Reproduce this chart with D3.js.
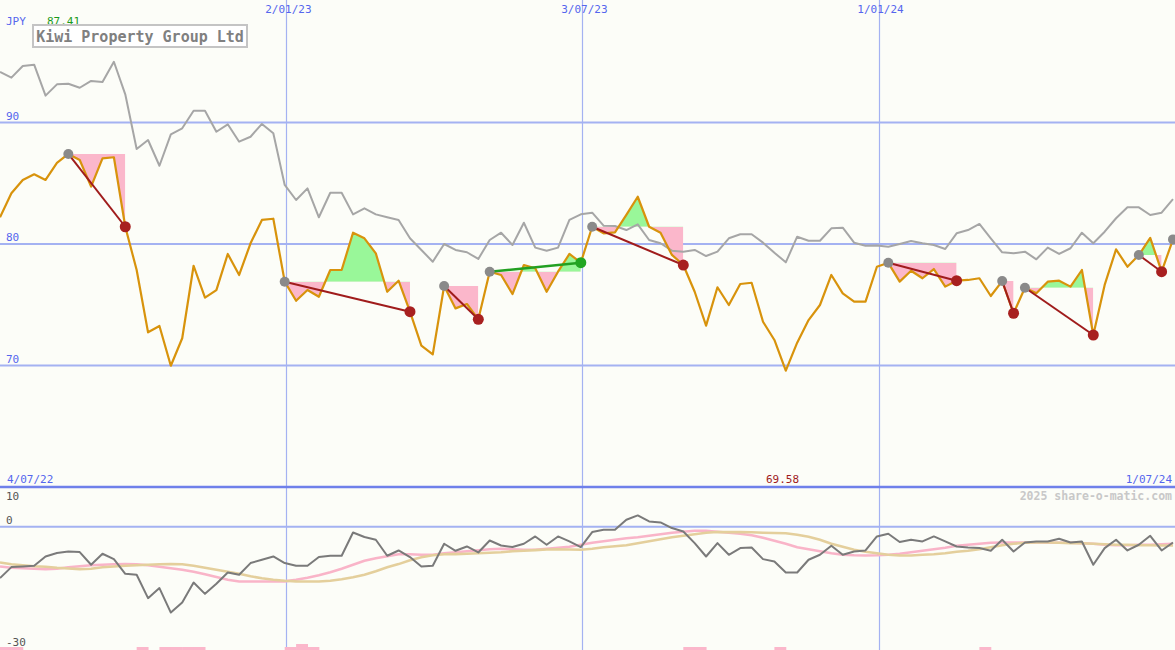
<!DOCTYPE html>
<html><head><meta charset="utf-8">
<script src="https://cdn.jsdelivr.net/npm/d3@7"></script>
<style>
html,body{margin:0;padding:0;background:#fcfdf8;}
svg{display:block;}
text{font-family:"DejaVu Sans Mono",monospace;}
</style></head><body>
<svg id="chart" width="1175" height="650"></svg>
<script>
// ---------------- data ----------------
const title = "Kiwi Property Group Ltd";
const currency = "JPY";
const startDate = "2022-07-10"; // first weekly point
const rangeStartLabel = "4/07/22";
const rangeEndLabel = "1/07/24";
const watermark = "2025 share-o-matic.com";
const dateTicks = ["2023-01-02", "2023-07-03", "2024-01-01"];
const priceTicks = [90, 80, 70];
const oscTicks = [10, 0, -30];

const price = [82.2, 84.17, 85.27, 85.74, 85.27, 86.67, 87.41, 86.91, 84.72, 87.05,
  87.14, 81.42, 77.86, 72.73, 73.25, 69.98, 72.24, 78.21, 75.58, 76.21,
  79.18, 77.45, 80.06, 81.98, 82.08, 76.9, 75.33, 76.21, 75.66, 77.86,
  77.86, 80.93, 80.47, 79.23, 76.07, 76.98, 74.43, 71.63, 70.92, 76.54,
  74.7, 75.06, 73.8, 77.72, 77.45, 75.88, 78.27, 78.0, 76.07, 77.72,
  79.18, 78.46, 81.42, 80.88, 80.96, 82.4, 83.89, 81.42, 80.93, 79.1,
  78.27, 76.07, 73.28, 76.44, 74.98, 76.71, 76.81, 73.6, 72.1, 69.58,
  71.88, 73.74, 74.98, 77.45, 75.94, 75.25, 75.25, 78.13, 78.45, 76.9,
  77.8, 77.18, 77.94, 76.49, 76.98, 77.04, 77.18, 75.72, 76.95, 74.3,
  76.4, 75.94, 76.9, 76.98, 76.49, 77.86, 72.51, 76.63, 79.56, 78.13,
  79.09, 80.51, 77.72, 80.38];

const relative = [94.16, 93.69, 94.65, 94.76, 92.21, 93.14, 93.19, 92.86, 93.42, 93.33,
  95.0, 92.32, 87.82, 88.56, 86.44, 89.03, 89.52, 90.97, 90.97, 89.24,
  89.85, 88.42, 88.83, 89.88, 89.11, 84.86, 83.62, 84.58, 82.2, 84.22,
  84.22, 82.44, 82.94, 82.44, 82.2, 81.98, 80.47, 79.51, 78.54, 80.0,
  79.51, 79.32, 78.77, 80.33, 80.93, 79.92, 81.75, 79.7, 79.45, 79.7,
  81.98, 82.44, 82.58, 81.51, 81.48, 81.15, 81.62, 80.33, 80.06, 79.45,
  79.37, 79.51, 79.01, 79.37, 80.47, 80.8, 80.8, 80.11, 79.28, 78.49,
  80.6, 80.27, 80.27, 81.29, 81.34, 80.11, 79.86, 79.88, 79.78, 80.0,
  80.25, 80.06, 79.92, 79.59, 80.88, 81.15, 81.65, 80.47, 79.32, 79.23,
  79.37, 78.74, 79.7, 79.18, 79.65, 80.93, 80.06, 81.01, 82.12, 83.02,
  83.02, 82.39, 82.58, 83.7];

const oscillator = [-12.92, -10.15, -10.0, -9.82, -7.48, -6.62, -6.22, -6.37, -9.57, -6.8,
  -8.14, -11.84, -12.09, -17.96, -15.44, -21.59, -19.07, -14.03, -16.88, -14.36,
  -11.51, -12.09, -9.14, -8.31, -7.48, -9.14, -9.82, -9.82, -7.63, -7.3,
  -7.3, -1.44, -2.59, -3.27, -7.3, -5.97, -7.63, -10.0, -9.82, -4.28,
  -6.05, -4.96, -6.47, -3.45, -4.71, -5.11, -4.28, -2.44, -4.53, -2.44,
  -3.7, -5.11, -1.34, -0.76, -0.76, 1.76, 2.85, 1.34, 1.08, -0.33,
  -1.18, -4.11, -7.48, -4.11, -7.05, -5.37, -5.21, -8.14, -8.74, -11.51,
  -11.51, -8.31, -7.05, -4.79, -7.05, -6.22, -5.97, -2.44, -1.76, -3.85,
  -3.27, -3.7, -2.44, -3.7, -4.96, -5.21, -5.37, -6.05, -3.27, -6.22,
  -3.95, -3.7, -3.7, -3.02, -3.95, -3.7, -9.57, -5.37, -3.27, -5.97,
  -4.53, -2.27, -5.97, -3.95];

const oscAvgFast = [-10.0, -10.33, -10.45, -10.58, -10.65, -10.58, -10.2, -9.95, -9.7, -9.57,
  -9.45, -9.4, -9.45, -9.7, -10.08, -10.45, -10.83, -11.34, -11.96, -12.67,
  -13.35, -13.78, -13.78, -13.78, -13.78, -13.73, -13.35, -12.85, -12.22, -11.46,
  -10.58, -9.57, -8.56, -7.93, -7.43, -6.93, -6.93, -7.05, -7.05, -6.68,
  -6.42, -6.17, -5.92, -5.67, -5.54, -5.67, -5.79, -5.79, -5.54, -5.29,
  -5.04, -4.53, -4.03, -3.65, -3.27, -2.9, -2.64, -2.27, -1.89, -1.51,
  -1.26, -1.01, -1.01, -1.26, -1.51, -1.76, -2.14, -2.77, -3.53, -4.28,
  -5.16, -5.67, -6.17, -6.68, -7.05, -7.18, -7.23, -7.18, -7.05, -6.8,
  -6.42, -6.05, -5.67, -5.29, -4.79, -4.53, -4.28, -4.03, -3.95, -3.95,
  -3.95, -3.95, -4.03, -4.03, -4.03, -4.16, -4.28, -4.53, -4.66, -4.66,
  -4.53, -4.53, -4.41, -4.28];

const oscAvgSlow = [-8.99, -9.45, -9.7, -9.95, -10.08, -10.33, -10.5, -10.65, -10.58, -10.2,
  -10.0, -9.82, -9.7, -9.57, -9.45, -9.4, -9.45, -9.82, -10.33, -10.83,
  -11.34, -11.84, -12.47, -12.97, -13.35, -13.6, -13.73, -13.78, -13.78, -13.6,
  -13.22, -12.72, -12.09, -11.21, -10.2, -9.4, -8.44, -7.68, -7.18, -6.93,
  -6.88, -6.8, -6.68, -6.55, -6.42, -6.17, -6.05, -5.87, -5.72, -5.67,
  -5.72, -5.79, -5.54, -5.16, -4.91, -4.66, -4.16, -3.65, -3.15, -2.64,
  -2.27, -1.89, -1.51, -1.34, -1.34, -1.34, -1.39, -1.51, -1.59, -1.64,
  -2.02, -2.52, -3.27, -4.28, -5.04, -5.79, -6.3, -6.68, -7.05, -7.23,
  -7.23, -7.05, -6.93, -6.68, -6.3, -6.05, -5.67, -5.16, -4.66, -4.28,
  -4.03, -3.95, -3.95, -4.03, -4.11, -4.16, -4.28, -4.41, -4.53, -4.53,
  -4.66, -4.66, -4.71, -4.71];

const volume = [1, 1, 0, 0, 0, 0, 0, 0, 0, 0,
  0, 0, 1, 0, 1, 1, 1, 1, 0, 0,
  0, 0, 0, 0, 0, 1, 2, 1, 0, 0,
  0, 0, 0, 0, 0, 0, 0, 0, 0, 0,
  0, 0, 0, 0, 0, 0, 0, 0, 0, 0,
  0, 0, 0, 0, 0, 0, 0, 0, 0, 0,
  1, 1, 0, 0, 0, 0, 0, 0, 1, 0,
  0, 0, 0, 0, 0, 0, 0, 0, 0, 0,
  0, 0, 0, 0, 0, 0, 1, 0, 0, 0,
  0, 0, 0, 0, 0, 0, 0, 0, 0, 0,
  0, 0, 0, 0];

const patternStarts = [6, 25, 39, 43, 52, 78, 88, 90, 100, 103];
const patternEnds = [11, 36, 42, 51, 60, 84, 89, 96, 102, null];

// ---------------- drawing ----------------
const W = 1175, H = 650;
const svg = d3.select("#chart");
const C = {
  bg: "#fcfdf8", grid: "#a4b2f2", gridDark: "#6f80ea", label: "#5566ee",
  price: "#d8930c", rel: "#a6a6a6", pink: "#fbb7cb", green: "#99f799",
  down: "#a01c1c", up: "#22a022", startDot: "#8a8a8a", endDown: "#a82020", endUp: "#22a622",
  osc: "#7a7a7a", fast: "#f9b4c8", slow: "#e4cf9c", bar: "#fbb7cb", axisText: "#555555"
};

const parse = d3.timeParse("%Y-%m-%d");
const d0 = parse(startDate);
const dates = price.map((_, i) => d3.timeWeek.offset(d0, i));
const x = d3.scaleTime().domain([dates[0], dates[dates.length - 1]]).range([0, 1173]);
const yMain = d3.scaleLinear().domain([60, 100]).range([487, 1]);
const yOsc = d3.scaleLinear().domain([-30, 10]).range([646, 487]);
const yVol = d3.scaleLinear().domain([0, 2]).range([650, 644]);
const fmt = d3.timeFormat("%-d/%m/%y");

svg.append("rect").attr("width", W).attr("height", H).attr("fill", C.bg);

// horizontal gridlines (main)
svg.selectAll("line.pg").data(priceTicks).join("line")
  .attr("x1", 0).attr("x2", W).attr("y1", d => yMain(d)).attr("y2", d => yMain(d))
  .attr("stroke", C.grid).attr("stroke-width", 2);
// oscillator zero line
svg.append("line").attr("x1", 0).attr("x2", W).attr("y1", yOsc(0)).attr("y2", yOsc(0))
  .attr("stroke", C.grid).attr("stroke-width", 2);
// vertical date gridlines
const tickDates = dateTicks.map(parse);
svg.selectAll("line.vg").data(tickDates).join("line")
  .attr("x1", d => Math.round(x(d)) + 0.5).attr("x2", d => Math.round(x(d)) + 0.5)
  .attr("y1", 0).attr("y2", H).attr("stroke", C.grid).attr("stroke-width", 1.2);
// panel separator
svg.append("line").attr("x1", 0).attr("x2", W).attr("y1", 487).attr("y2", 487)
  .attr("stroke", C.gridDark).attr("stroke-width", 2.5);

// pattern fills
const defs = svg.append("defs");
const gFill = svg.append("g");
patternStarts.forEach((a, k) => {
  const b = patternEnds[k];
  if (b === null) return;
  const yl = yMain(price[a]);
  const idx = d3.range(a, b + 1);
  const area = d3.area().x(i => x(dates[i])).y0(yl).y1(i => yMain(price[i]));
  const xa = x(dates[a]), xb = x(dates[b]);
  defs.append("clipPath").attr("id", "below" + k).append("rect")
    .attr("x", xa).attr("width", xb - xa).attr("y", yl).attr("height", 487 - yl);
  defs.append("clipPath").attr("id", "above" + k).append("rect")
    .attr("x", xa).attr("width", xb - xa).attr("y", 0).attr("height", yl);
  gFill.append("path").attr("d", area(idx)).attr("fill", C.pink).attr("clip-path", `url(#below${k})`);
  gFill.append("path").attr("d", area(idx)).attr("fill", C.green).attr("clip-path", `url(#above${k})`);
});

// relative line
const lineMain = d3.line().x((d, i) => x(dates[i])).y(d => yMain(d));
svg.append("path").attr("d", lineMain(relative)).attr("fill", "none")
  .attr("stroke", C.rel).attr("stroke-width", 2).attr("stroke-linejoin", "round");
// price line
svg.append("path").attr("d", lineMain(price)).attr("fill", "none")
  .attr("stroke", C.price).attr("stroke-width", 2.2).attr("stroke-linejoin", "round");

// trend lines & dots
patternStarts.forEach((a, k) => {
  const b = patternEnds[k];
  if (b === null) return;
  const up = price[b] > price[a];
  svg.append("line").attr("x1", x(dates[a])).attr("y1", yMain(price[a]))
    .attr("x2", x(dates[b])).attr("y2", yMain(price[b]))
    .attr("stroke", up ? C.up : C.down).attr("stroke-width", up ? 2.5 : 2);
});
patternStarts.forEach((a, k) => {
  svg.append("circle").attr("cx", x(dates[a])).attr("cy", yMain(price[a])).attr("r", 5)
    .attr("fill", C.startDot);
  const b = patternEnds[k];
  if (b === null) return;
  const up = price[b] > price[a];
  svg.append("circle").attr("cx", x(dates[b])).attr("cy", yMain(price[b])).attr("r", 5.5)
    .attr("fill", up ? C.endUp : C.endDown);
});

// lower panel
const step = x(dates[1]) - x(dates[0]);
svg.selectAll("rect.vol").data(volume.map((v, i) => ({v, i})).filter(d => d.v > 0)).join("rect")
  .attr("x", d => x(dates[d.i])).attr("width", step + 0.5)
  .attr("y", d => yVol(d.v)).attr("height", d => yVol(0) - yVol(d.v)).attr("fill", C.bar);
const lineOsc = d3.line().x((d, i) => x(dates[i])).y(d => yOsc(d));
svg.append("path").attr("d", lineOsc(oscAvgFast)).attr("fill", "none")
  .attr("stroke", C.fast).attr("stroke-width", 2.6);
svg.append("path").attr("d", lineOsc(oscAvgSlow)).attr("fill", "none")
  .attr("stroke", C.slow).attr("stroke-width", 2.6);
svg.append("path").attr("d", lineOsc(oscillator)).attr("fill", "none")
  .attr("stroke", C.osc).attr("stroke-width", 2).attr("stroke-linejoin", "round");

// ---------------- texts ----------------
const fs = 11;
svg.selectAll("text.dt").data(tickDates).join("text")
  .attr("x", d => x(d) + 2).attr("y", 13).attr("text-anchor", "middle")
  .attr("font-size", fs).attr("fill", C.label).text(d => fmt(d));
svg.selectAll("text.pt").data(priceTicks).join("text")
  .attr("x", 6).attr("y", d => yMain(d) - 3).attr("font-size", fs).attr("fill", C.label).text(d => d);
svg.append("text").attr("x", 6).attr("y", 25).attr("font-size", fs).attr("fill", C.label).text(currency);
svg.append("text").attr("x", 47).attr("y", 25).attr("font-size", fs).attr("fill", "#1a9a1a")
  .text(d3.max(price).toFixed(2));
svg.append("rect").attr("x", 33).attr("y", 25).attr("width", 214).attr("height", 22)
  .attr("fill", "#ffffff").attr("stroke", "#c4c4c4").attr("stroke-width", 2);
svg.append("text").attr("x", 140).attr("y", 41.5).attr("text-anchor", "middle")
  .attr("font-size", 15).attr("fill", "#808080").attr("font-weight", "bold").text(title);

svg.append("text").attr("x", 7).attr("y", 483).attr("font-size", fs).attr("fill", C.label).text(rangeStartLabel);
svg.append("text").attr("x", 1172).attr("y", 483).attr("text-anchor", "end").attr("font-size", fs)
  .attr("fill", C.label).text(rangeEndLabel);
svg.append("text").attr("x", 766).attr("y", 483).attr("font-size", fs).attr("fill", "#a01c1c")
  .text(d3.min(price).toFixed(2));
svg.append("text").attr("x", 1172).attr("y", 500).attr("text-anchor", "end").attr("font-size", 11.5)
  .attr("font-weight", "bold").attr("fill", "#c8c8c8").text(watermark);
const oscLabelY = {10: 500, 0: 524, "-30": 646};
svg.selectAll("text.ot").data(oscTicks).join("text")
  .attr("x", 6).attr("y", d => oscLabelY[d]).attr("font-size", fs).attr("fill", C.axisText).text(d => d);
</script>
</body></html>
